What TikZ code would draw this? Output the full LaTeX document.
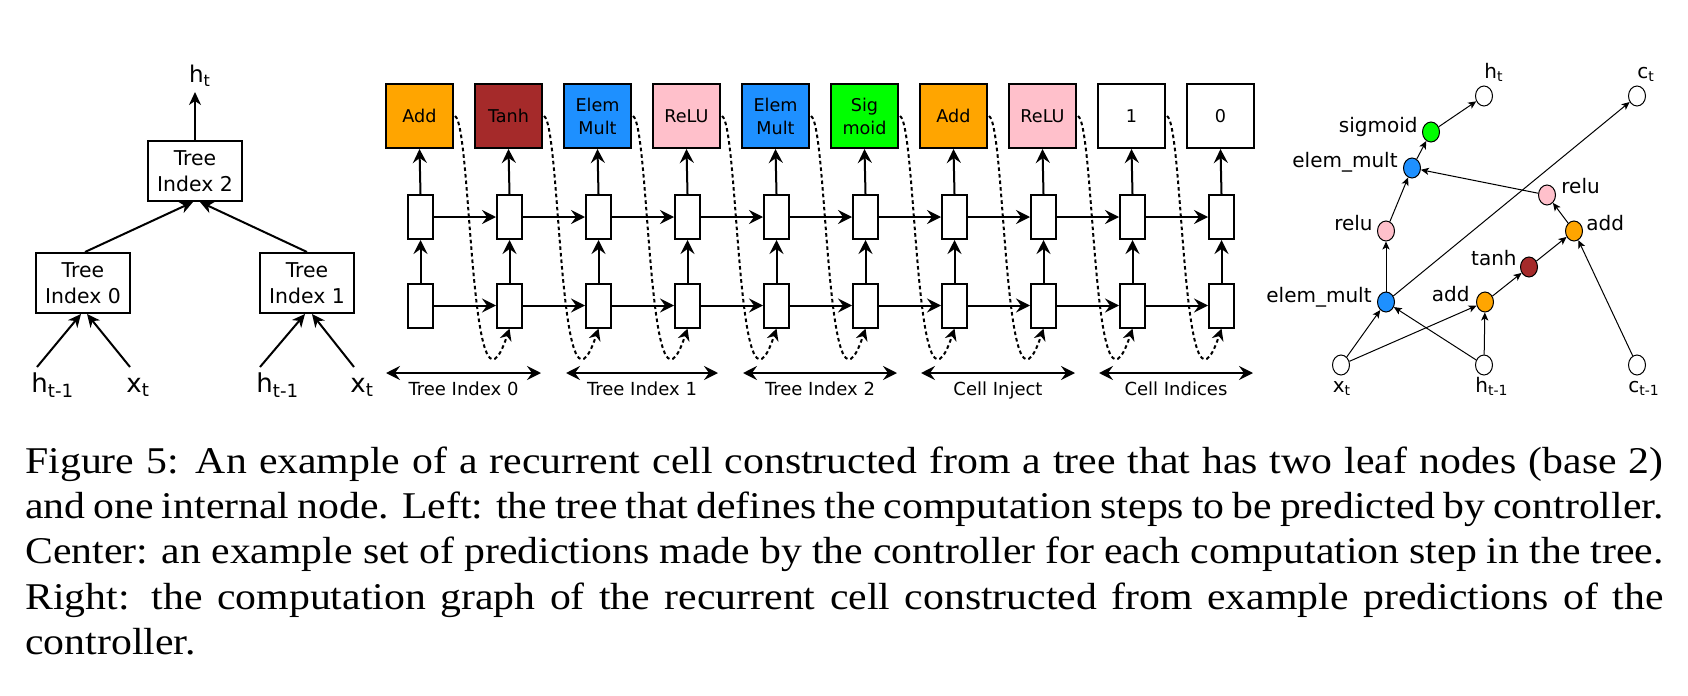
\documentclass[tikz,border=0pt]{standalone}
\usepackage{fontspec}
\setmainfont{DejaVu Sans}
\newfontfamily\capfont[FakeStretch=1.105]{Liberation Serif}
\usetikzlibrary{arrows.meta,shapes.geometric}
\definecolor{cadd}{HTML}{FFA500}
\definecolor{ctanh}{HTML}{A52A2A}
\definecolor{cmult}{HTML}{1E90FF}
\definecolor{crelu}{HTML}{FFC0CB}
\definecolor{csig}{HTML}{00FF00}
\begin{document}
\begin{tikzpicture}[x=0.5pt,y=-0.5pt,
  tree/.style={draw, line width=1pt, minimum width=47pt, minimum height=30pt, inner sep=0pt, align=center, font=\fontsize{10.2pt}{13pt}\selectfont},
  tarr/.style={line width=1pt, -{Stealth[length=6.5pt,width=6pt,inset=2pt]}},
  leaf/.style={font=\fontsize{13pt}{15pt}\selectfont, inner sep=0pt, anchor=base west},
  op/.style={draw, line width=1pt, minimum width=33.5pt, minimum height=32pt, inner sep=0pt, align=center, font=\fontsize{8.8pt}{11.5pt}\selectfont},
  cellbox/.style={draw, line width=1pt, fill=white, minimum width=12.5pt, minimum height=22pt, inner sep=0pt},
  marr/.style={line width=1pt, -{Stealth[length=7pt,width=7pt,inset=2.5pt]}},
  darr/.style={line width=1pt, {Stealth[length=7pt,width=7pt,inset=2.5pt]}-{Stealth[length=7pt,width=7pt,inset=2.5pt]}},
  dots/.style={line width=1pt, dash pattern=on 1.8pt off 1.5pt, -{Stealth[length=6pt,width=6pt,inset=2pt]}},
  seg/.style={font=\fontsize{9pt}{11pt}\selectfont, inner sep=0pt, anchor=base},
  gn/.style={ellipse, draw, line width=0.5pt, minimum width=8.5pt, minimum height=10pt, inner sep=0pt},
  glab/.style={font=\fontsize{10pt}{12pt}\selectfont, inner sep=0pt},
  garr/.style={line width=0.5pt, -{Stealth[length=4pt,width=3.6pt,inset=1pt]}},
]
\fill[white] (0,0) rectangle (1688,696);
\useasboundingbox (0,0) rectangle (1688,696);

% ---------- left tree ----------
\node[tree] (t2) at (195,171) {Tree\\Index 2};
\node[tree] (t0) at (83,283) {Tree\\Index 0};
\node[tree] (t1) at (307,283) {Tree\\Index 1};
\node[font=\fontsize{11.5pt}{13pt}\selectfont, inner sep=0pt, anchor=base] (htop) at (200,83) {h\textsubscript{t}};
\coordinate (htc) at (195,92);
\node[leaf] (hl0) at (31,392) {h\textsubscript{t-1}};
\node[leaf] (xl0) at (126,392) {x\textsubscript{t}};
\node[leaf] (hl1) at (256,392) {h\textsubscript{t-1}};
\node[leaf] (xl1) at (350,392) {x\textsubscript{t}};
\coordinate (ha0) at (37,367);
\coordinate (xa0) at (130,367);
\coordinate (ha1) at (260,367);
\coordinate (xa1) at (354,367);
\draw[tarr] (t2.north) -- (htc);
\draw[tarr] ([xshift=1pt]t0.north) -- ([xshift=-1pt]t2.south);
\draw[tarr] (t1.north) -- ([xshift=2.5pt]t2.south);
\draw[tarr] (ha0) -- ([xshift=-1pt]t0.south);
\draw[tarr] (xa0) -- ([xshift=2pt]t0.south);
\draw[tarr] (ha1) -- ([xshift=-1pt]t1.south);
\draw[tarr] (xa1) -- ([xshift=2.5pt]t1.south);

% ---------- middle ----------
\foreach \i/\t/\c in {0/Add/cadd, 1/Tanh/ctanh, 2/{Elem\\Mult}/cmult, 3/ReLU/crelu, 4/{Elem\\Mult}/cmult, 5/{Sig\\moid}/csig, 6/Add/cadd, 7/ReLU/crelu, 8/1/white, 9/0/white}{
  \node[op, fill=\c] (op\i) at ({419.5+89*\i},116) {\t};
  \node[cellbox] (u\i) at ({420.5+89*\i},217) {};
  \node[cellbox] (l\i) at ({420.5+89*\i},305.5) {};
  \draw[marr] (u\i.north) -- (op\i.south);
  \draw[marr] (l\i.north) -- (u\i.south);
}
\foreach \i [evaluate=\i as \j using {int(\i+1)}] in {0,...,8}{
  \draw[marr] (u\i.east) -- (u\j.west);
  \draw[marr] (l\i.east) -- (l\j.west);
  \draw[dots] ([xshift=0.5pt]op\i.east) .. controls +(17,9) and +(-40,120) .. (l\j.south);
}
\foreach \k/\a/\b/\txt in {0/386/541/Tree Index 0, 1/566/718/Tree Index 1, 2/743/897/Tree Index 2, 3/921/1075/Cell Inject, 4/1099/1253/Cell Indices}{
  \coordinate (sa\k) at (\a,373);
  \coordinate (sb\k) at (\b,373);
  \draw[darr] (sa\k) -- (sb\k);
  \node[seg] (sl\k) at ({(\a+\b)/2},395) {\txt};
}

% ---------- right graph ----------
\node[gn] (xt) at (1341,365) {};
\node[gn] (ht1) at (1484,365) {};
\node[gn] (ct1) at (1637,365) {};
\node[gn] (htn) at (1484,96) {};
\node[gn] (ctn) at (1637,96) {};
\node[gn, fill=csig] (sig) at (1431,132) {};
\node[gn, fill=cmult] (em2) at (1412,168) {};
\node[gn, fill=crelu] (relR) at (1547,195) {};
\node[gn, fill=crelu] (relL) at (1386,231) {};
\node[gn, fill=cadd] (addR) at (1574,231) {};
\node[gn, fill=ctanh] (tanh) at (1529,267) {};
\node[gn, fill=cmult] (em1) at (1386,302) {};
\node[gn, fill=cadd] (add1) at (1485,302) {};

\node[glab, anchor=base east] (lsig) at (1418,132) {sigmoid};
\node[glab, anchor=base east] (lem2) at (1398,167) {elem\_mult};
\node[glab, anchor=base west] (lrelR) at (1561,193) {relu};
\node[glab, anchor=base east] (lrelL) at (1373,230) {relu};
\node[glab, anchor=base west] (laddR) at (1586,230) {add};
\node[glab, anchor=base east] (ltanh) at (1517,265) {tanh};
\node[glab, anchor=base east] (lem1) at (1372,302) {elem\_mult};
\node[glab, anchor=base east] (ladd1) at (1470,301) {add};
\node[glab, anchor=base] (lht) at (1494,78) {h\textsubscript{t}};
\node[glab, anchor=base] (lct) at (1646,78) {c\textsubscript{t}};
\node[glab, anchor=base] (lxt) at (1342,392) {x\textsubscript{t}};
\node[glab, anchor=base] (lht1) at (1492,392) {h\textsubscript{t-1}};
\node[glab, anchor=base] (lct1) at (1644,392) {c\textsubscript{t-1}};

\draw[garr] (xt) -- (em1);
\draw[garr] (xt) -- (add1);
\draw[garr] (ht1) -- (em1);
\draw[garr] (ht1) -- (add1);
\draw[garr] (em1) -- (relL);
\draw[garr] (em1) -- (ctn);
\draw[garr] (relL) -- (em2);
\draw[garr] (em2) -- (sig);
\draw[garr] (sig) -- (htn);
\draw[garr] (add1) -- (tanh);
\draw[garr] (tanh) -- (addR);
\draw[garr] (ct1) -- (addR);
\draw[garr] (addR) -- (relR);
\draw[garr] (relR) -- (em2);

% ---------- caption ----------
\node[anchor=base west, inner sep=0pt] (cap) at (25,473) {\parbox[t]{819pt}{\capfont\fontsize{18.89pt}{22.67pt}\selectfont Figure 5: An example of a recurrent cell constructed from a tree that has two leaf nodes (base 2)\linebreak{} and one internal node. Left: the tree that defines the computation steps to be predicted by controller.\linebreak{} Center: an example set of predictions made by the controller for each computation step in the tree.\linebreak{} Right: the computation graph of the recurrent cell constructed from example predictions of the\linebreak{} controller.}};
\end{tikzpicture}
\end{document}
